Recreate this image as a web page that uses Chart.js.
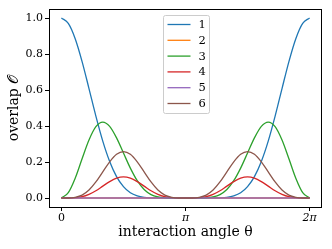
<!DOCTYPE html>
<html>
<head>
<meta charset="utf-8">
<script src="https://cdn.jsdelivr.net/npm/chart.js@4.4.1/dist/chart.umd.min.js"></script>
<style>
  html, body { margin: 0; padding: 0; background: #fff; }
  #wrap { width: 332px; height: 249px; }
</style>
</head>
<body>
<div id="wrap"><canvas id="overlapChart" width="332" height="249"></canvas></div>
<script>
// interaction angle in degrees, 10 degree steps
const angleDeg = [0, 10, 20, 30, 40, 50, 60, 70, 80, 90, 100, 110, 120, 130, 140, 150, 160, 170, 180,
  190, 200, 210, 220, 230, 240, 250, 260, 270, 280, 290, 300, 310, 320, 330, 340, 350, 360];

const seriesNames = ['1', '2', '3', '4', '5', '6'];
const seriesColors = ['#1f77b4', '#ff7f0e', '#2ca02c', '#d62728', '#9467bd', '#8c564b'];

const overlap1 = [1.000, 0.970, 0.885, 0.758, 0.608, 0.455, 0.316, 0.203, 0.119, 0.063, 0.029, 0.012, 0.004, 0.001, 0.000, 0.000, 0.000, 0.000, 0.000,
  0.000, 0.000, 0.000, 0.000, 0.001, 0.004, 0.012, 0.029, 0.063, 0.119, 0.203, 0.316, 0.455, 0.608, 0.758, 0.885, 0.970, 1.000];
const overlap2 = [0, 0, 0, 0, 0, 0, 0, 0, 0, 0, 0, 0, 0, 0, 0, 0, 0, 0, 0,
  0, 0, 0, 0, 0, 0, 0, 0, 0, 0, 0, 0, 0, 0, 0, 0, 0, 0];
const overlap3 = [0.000, 0.030, 0.110, 0.218, 0.322, 0.396, 0.422, 0.398, 0.334, 0.250, 0.166, 0.096, 0.047, 0.019, 0.006, 0.001, 0.000, 0.000, 0.000,
  0.000, 0.000, 0.001, 0.006, 0.019, 0.047, 0.096, 0.166, 0.250, 0.334, 0.398, 0.422, 0.396, 0.322, 0.218, 0.110, 0.030, 0.000];
const overlap4 = [0.000, 0.000, 0.002, 0.007, 0.020, 0.040, 0.066, 0.091, 0.110, 0.117, 0.110, 0.091, 0.066, 0.040, 0.020, 0.007, 0.002, 0.000, 0.000,
  0.000, 0.002, 0.007, 0.020, 0.040, 0.066, 0.091, 0.110, 0.117, 0.110, 0.091, 0.066, 0.040, 0.020, 0.007, 0.002, 0.000, 0.000];
const overlap5 = [0, 0, 0, 0, 0, 0, 0, 0, 0, 0, 0, 0, 0, 0, 0, 0, 0, 0, 0,
  0, 0, 0, 0, 0, 0, 0, 0, 0, 0, 0, 0, 0, 0, 0, 0, 0, 0];
const overlap6 = [0.000, 0.000, 0.004, 0.016, 0.044, 0.089, 0.145, 0.201, 0.243, 0.258, 0.243, 0.201, 0.145, 0.089, 0.044, 0.016, 0.004, 0.000, 0.000,
  0.000, 0.004, 0.016, 0.044, 0.089, 0.145, 0.201, 0.243, 0.258, 0.243, 0.201, 0.145, 0.089, 0.044, 0.016, 0.004, 0.000, 0.000];

const xTickValues = [0, Math.PI, 2 * Math.PI];
const xTickLabels = ['0', 'π', '2π'];
const yTickValues = [0, 0.2, 0.4, 0.6, 0.8, 1.0];

const allSeries = [overlap1, overlap2, overlap3, overlap4, overlap5, overlap6];
const serif = "'DejaVu Serif', serif";

const datasets = allSeries.map((vals, i) => ({
  label: seriesNames[i],
  data: vals.map((v, j) => ({ x: angleDeg[j] * Math.PI / 180, y: v })),
  borderColor: seriesColors[i],
  backgroundColor: seriesColors[i],
  borderWidth: 1.3,
  pointRadius: 0,
  cubicInterpolationMode: 'monotone',
  fill: false,
  order: allSeries.length - 1 - i
}));

// box around the plot area, like matplotlib spines
const framePlugin = {
  id: 'frame',
  afterDraw(chart) {
    const { ctx, chartArea: a } = chart;
    ctx.save();
    ctx.strokeStyle = '#000';
    ctx.lineWidth = 1;
    ctx.strokeRect(Math.round(a.left) + 0.5, Math.round(a.top) + 0.5,
      Math.round(a.right - a.left) - 1, Math.round(a.bottom - a.top));
    ctx.restore();
  }
};

// legend drawn inside the axes, upper centre
const legendPlugin = {
  id: 'insideLegend',
  afterDatasetsDraw(chart) {
    const { ctx, chartArea: a } = chart;
    const w = 46, rowH = 15.8, h = 98;
    const x0 = Math.round((a.left + a.right) / 2 - w / 2) + 0.5;
    const y0 = Math.round(a.top + 6) + 0.5;
    ctx.save();
    ctx.fillStyle = 'rgba(255,255,255,0.8)';
    ctx.strokeStyle = '#cccccc';
    ctx.lineWidth = 1;
    ctx.beginPath();
    ctx.roundRect(x0, y0, w, h, 2);
    ctx.fill();
    ctx.stroke();
    ctx.font = '11.5px ' + serif;
    ctx.textBaseline = 'middle';
    ctx.textAlign = 'left';
    chart.data.datasets.forEach((ds, i) => {
      const yy = y0 + 9 + i * rowH;
      ctx.strokeStyle = ds.borderColor;
      ctx.lineWidth = 1.3;
      ctx.beginPath();
      ctx.moveTo(x0 + 4, yy);
      ctx.lineTo(x0 + 27, yy);
      ctx.stroke();
      ctx.fillStyle = '#000';
      ctx.fillText(ds.label, x0 + 35, yy + 0.5);
    });
    ctx.restore();
  }
};

const ctx = document.getElementById('overlapChart').getContext('2d');
new Chart(ctx, {
  type: 'line',
  data: { datasets: datasets },
  options: {
    responsive: false,
    animation: false,
    devicePixelRatio: 1,
    layout: { padding: { top: 9, right: 10, left: 0, bottom: 0 } },
    plugins: {
      legend: { display: false },
      tooltip: { enabled: false }
    },
    scales: {
      x: {
        type: 'linear',
        min: -0.05 * 2 * Math.PI,
        max: 2 * Math.PI * 1.05,
        afterBuildTicks(scale) { scale.ticks = xTickValues.map(v => ({ value: v })); },
        afterFit(scale) { scale.height = 42; },
        ticks: {
          color: '#000',
          font: c => ({ family: serif, size: 11, style: c.index > 0 ? 'italic' : 'normal' }),
          padding: 1,
          maxRotation: 0,
          callback: (v, i) => xTickLabels[i]
        },
        grid: { display: true, drawOnChartArea: false, drawTicks: true, tickLength: 4, color: '#000' },
        border: { display: false },
        title: {
          display: true,
          text: 'interaction angle θ',
          color: '#000',
          font: { family: serif, size: 14 },
          padding: { top: 0, bottom: 8 }
        }
      },
      y: {
        min: -0.05,
        max: 1.05,
        afterBuildTicks(scale) { scale.ticks = yTickValues.map(v => ({ value: v })); },
        afterFit(scale) { scale.width = 49; },
        ticks: {
          color: '#000',
          font: { family: serif, size: 11 },
          padding: 2,
          callback: v => v.toFixed(1)
        },
        grid: { display: true, drawOnChartArea: false, drawTicks: true, tickLength: 4, color: '#000' },
        border: { display: false },
        title: {
          display: true,
          text: 'overlap 𝒪',
          color: '#000',
          font: { family: serif, size: 14 },
          padding: { top: 6, bottom: 0 }
        }
      }
    }
  },
  plugins: [framePlugin, legendPlugin]
});
</script>
</body>
</html>
